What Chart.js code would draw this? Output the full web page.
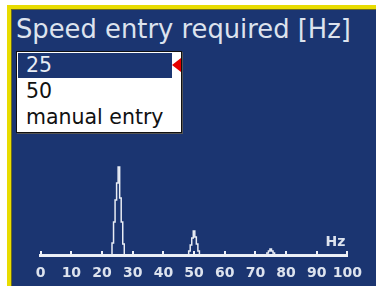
<!DOCTYPE html>
<html>
<head>
<meta charset="utf-8">
<script src="https://cdn.jsdelivr.net/npm/chart.js@4"></script>
<style>
  html, body { margin: 0; padding: 0; background: #fff; }
  body { width: 376px; height: 286px; position: relative; overflow: hidden; font-family: "DejaVu Sans", sans-serif; }
  #frame { position: absolute; left: 7px; top: 5px; right: -10px; bottom: -10px;
           background: #e8dc00; }
  #panel { position: absolute; left: 11px; top: 9px; right: -10px; bottom: -10px;
           background: #1b3571; border-left: 1px solid #6b6a20; border-top: 1px solid #6b6a20; }
  #title { position: absolute; left: 16px; top: 14px; color: #dde3ee; font-size: 25.8px; line-height: 30px; white-space: nowrap; }
  #menu { position: absolute; left: 16px; top: 51px; width: 164px; height: 80px; background: #fff;
          border: 1px solid #111; box-shadow: 1px 1px 0 #555; font-size: 20.5px; color: #111; }
  .row { position: absolute; left: 0; height: 26px; line-height: 26px; padding-left: 9px; white-space: nowrap; }
  .row.sel { background: #1b3571; color: #e8ecf4; width: 146px; left: 1px; padding-left: 8px; height: 25px; line-height: 25px; }
  #arrow { position: absolute; left: 155px; top: 6px; width: 0; height: 0;
           border-top: 7px solid transparent; border-bottom: 7px solid transparent; border-right: 9px solid #e60000; }
  #wrap { position: absolute; left: 0; top: 140px; width: 376px; height: 146px; }
</style>
</head>
<body>
<div id="frame"></div>
<div id="panel"></div>
<div id="title">Speed entry required [Hz]</div>
<div id="menu">
  <div class="row sel" style="top:1px">25</div>
  <div id="arrow"></div>
  <div class="row" style="top:26px">50</div>
  <div class="row" style="top:52px">manual entry</div>
</div>
<div id="wrap"><canvas id="spec" width="376" height="146"></canvas></div>
<script>
const unit = "Hz";
const tickValues = [0, 10, 20, 30, 40, 50, 60, 70, 80, 90, 100];
const freq = [0, 22.5, 23, 23.5, 24, 24.5, 25, 25.5, 26, 26.5, 27, 27.5,
              48, 48.5, 49, 49.5, 50, 50.5, 51, 51.5, 52,
              73.5, 74, 74.5, 75, 75.5, 76, 76.5, 100];
const amp  = [0, 0, 0, 12, 33, 55, 72, 88, 57, 33, 11, 0,
              0, 4, 10, 17, 24, 18, 11, 4, 0,
              0, 2, 4, 6, 4, 2, 0, 0];

const txt = "#dde3ee";

const hzLabel = {
  id: "hzLabel",
  afterDraw(c) {
    const {ctx, chartArea} = c;
    ctx.save();
    ctx.fillStyle = txt;
    ctx.font = "bold 14px 'DejaVu Sans'";
    ctx.textAlign = "right";
    ctx.textBaseline = "alphabetic";
    ctx.fillText(unit, chartArea.right - 2, chartArea.bottom - 9);
    ctx.restore();
  }
};

new Chart(document.getElementById("spec"), {
  type: "line",
  data: {
    datasets: [{
      data: freq.map((f, i) => ({x: f, y: amp[i]})),
      borderColor: "#e8ecf4",
      borderWidth: 1.5,
      pointRadius: 0,
      fill: false,
      stepped: "middle",
    }],
  },
  options: {
    responsive: false,
    animation: false,
    events: [],
    layout: {padding: {left: 40.7, right: 21, top: 0, bottom: 0}},
    plugins: {legend: {display: false}, tooltip: {enabled: false}},
    scales: {
      x: {
        type: "linear", min: 0, max: 100,
        afterBuildTicks: s => { s.ticks = tickValues.map(v => ({value: v})); },
        afterFit: s => { s.height = 31; },
        border: {display: true, color: "#eef1f7", width: 3},
        grid: {drawOnChartArea: false, drawTicks: true, tickLength: -4, color: "#eef1f7", lineWidth: 2},
        ticks: {color: txt, font: {family: "DejaVu Sans", size: 14, weight: "bold"}, padding: 14, maxRotation: 0, autoSkip: false},
      },
      y: {display: false, min: 0, max: 115},
    },
  },
  plugins: [hzLabel],
});
</script>
</body>
</html>
